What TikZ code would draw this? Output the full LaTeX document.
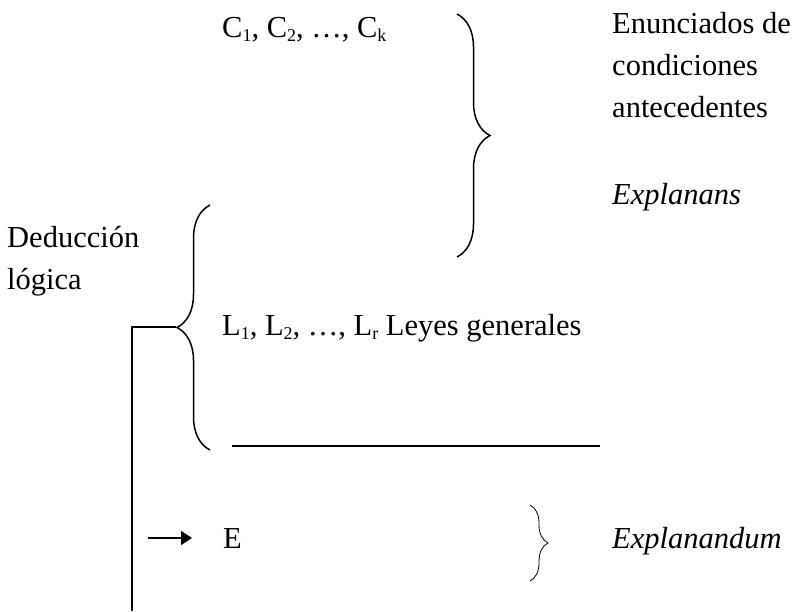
\documentclass[tikz,border=0pt]{standalone}
\usepackage{fontspec}
\setmainfont{Liberation Serif}
\usetikzlibrary{positioning,decorations.pathreplacing,arrows.meta}
\newcommand\idx[1]{\raisebox{-0.3ex}{\fontsize{18}{18}\selectfont #1}}

\begin{document}
\begin{tikzpicture}[x=1pt, y=-1pt,
  txt/.style={inner sep=0pt, anchor=base west, font=\fontsize{30.5}{42}\selectfont},
  brc/.style={decorate, decoration={brace, amplitude=#1}, line width=1.5pt}]
  \useasboundingbox (0,0) rectangle (805,611);

  % Premises
  \node[txt] (cs) at (222, 37) {C\idx{1}, C\idx{2}, \ldots, C\idx{k}};
  \node[txt] (ls) at (222, 335) {L\idx{1}, L\idx{2}, \ldots, L\idx{r} Leyes generales};
  \node[txt, align=left, anchor=north west] (cond) at (612, 12) {Enunciados de\\condiciones\\antecedentes};
  \node[txt] (ans) at (612, 204) {\textit{Explanans}};
  \node[txt, align=left, anchor=north west] (ded) at (7, 226) {Deducción\\lógica};

  % Conclusion
  \node[txt] (e) at (223, 548) {E};
  \node[txt] (and) at (612, 548) {\textit{Explanandum}};

  % Braces
  \draw[brc=33] (457, 14) -- (457, 257);
  \draw[brc=33] (210, 450) -- (210, 205);
  \draw[brc=18, line width=0.8pt] (530, 505) -- (530, 581);
  \coordinate (tip) at (176, 327);

  % Separator and deduction line
  \draw[line width=1.5pt] (232, 446) coordinate (sepa) -- (600, 446) coordinate (sepb);
  \coordinate (corner) at (132, 327);
  \coordinate (bot) at (132, 611);
  \draw[line width=1.5pt] (tip) -- (corner) -- (bot);
  \coordinate (arr) at (148, 538);
  \draw[line width=1.5pt, -{Triangle[length=11pt, width=14pt]}] (arr) -- (192, 538);
\end{tikzpicture}
\end{document}
